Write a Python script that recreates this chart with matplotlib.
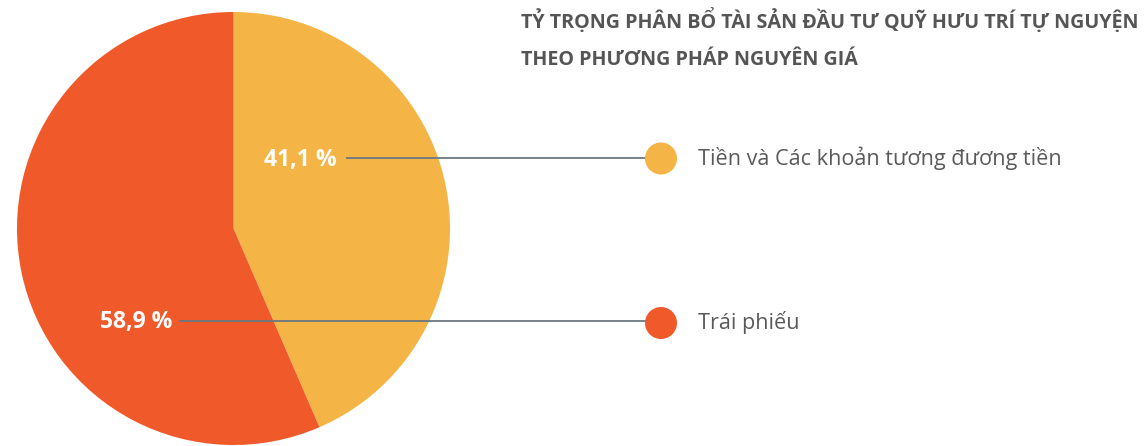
import matplotlib
matplotlib.use("Agg")
import matplotlib.pyplot as plt
from matplotlib.patches import Circle

# data
categories = ["Tiền và Các khoản tương đương tiền", "Trái phiếu"]
# wedge sizes as drawn in the picture (the labels say 41,1 / 58,9)
values = [43.5, 56.5]
value_labels = ["41,1 %", "58,9 %"]
colors = ["#F4B446", "#F05A2B"]
title_lines = ["TỶ TRỌNG PHÂN BỔ TÀI SẢN ĐẦU TƯ QUỸ HƯU TRÍ TỰ NGUYỆN",
               "THEO PHƯƠNG PHÁP NGUYÊN GIÁ"]

W, H = 1148, 446
fig = plt.figure(figsize=(W / 100, H / 100), dpi=100)
ax = fig.add_axes([0, 0, 1, 1])

# pixel helper: y measured from top
def py(y):
    return H - y

ax.pie(values, colors=colors, startangle=90, counterclock=False,
       center=(233.5, py(228.5)), radius=216.5, frame=True,
       wedgeprops=dict(linewidth=0))
ax.set_xlim(0, W)
ax.set_ylim(0, H)
ax.axis("off")

font = "Open Sans"
line_col = "#6B7780"
label_pos = [(264, 160), (100, 322)]
line_start = [347, 180]
line_y = [158, 320.5]
dot_y = [158.5, 323]

for i in range(len(values)):
    lx, ly = label_pos[i]
    ax.text(lx, py(ly), value_labels[i], color="white", fontsize=16.5,
            fontweight="bold", family=font, ha="left", va="center")
    ax.plot([line_start[i], 650], [py(line_y[i])] * 2, color=line_col, lw=1.3,
            zorder=3)
    ax.add_patch(Circle((661, py(dot_y[i])), 16, color=colors[i], zorder=4,
                        lw=0))
    ax.text(698, py(dot_y[i]), categories[i], color="#5A5A5A", fontsize=15.6,
            family=font, ha="left", va="center")

ax.text(521, py(21), title_lines[0], color="#555555", fontsize=14.2,
        fontweight="bold", family=font, ha="left", va="center")
ax.text(521, py(60), title_lines[1], color="#555555", fontsize=14.2,
        fontweight="bold", family=font, ha="left", va="center")

fig.savefig("out.png", dpi=100)
